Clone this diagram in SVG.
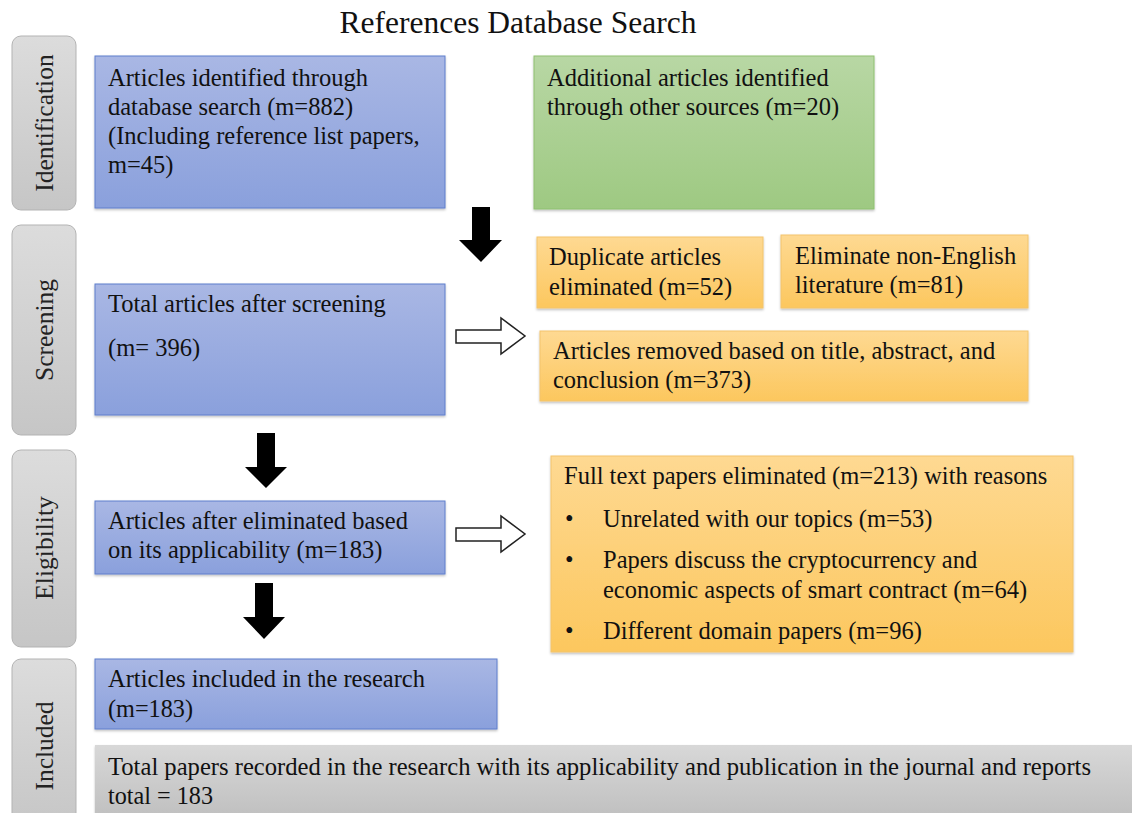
<svg xmlns="http://www.w3.org/2000/svg" width="1132" height="813" viewBox="0 0 1132 813">
  <defs>
    <linearGradient id="gBlue" x1="0" y1="0" x2="0" y2="1">
      <stop offset="0" stop-color="#a9b7e4"/>
      <stop offset="1" stop-color="#8aa0dc"/>
    </linearGradient>
    <linearGradient id="gGreen" x1="0" y1="0" x2="0" y2="1">
      <stop offset="0" stop-color="#b8d7a4"/>
      <stop offset="1" stop-color="#9ec982"/>
    </linearGradient>
    <linearGradient id="gOrange" x1="0" y1="0" x2="0" y2="1">
      <stop offset="0" stop-color="#fed992"/>
      <stop offset="1" stop-color="#fcc75e"/>
    </linearGradient>
    <linearGradient id="gGray" x1="0" y1="0" x2="0" y2="1">
      <stop offset="0" stop-color="#dcdcdc"/>
      <stop offset="1" stop-color="#c6c6c6"/>
    </linearGradient>
    <linearGradient id="gBand" x1="0" y1="0" x2="0" y2="1">
      <stop offset="0" stop-color="#d8d8d8"/>
      <stop offset="1" stop-color="#bdbdbd"/>
    </linearGradient>
    <filter id="shadow" x="-5%" y="-5%" width="110%" height="115%">
      <feDropShadow dx="0" dy="1.5" stdDeviation="1.2" flood-color="#000" flood-opacity="0.25"/>
    </filter>
  </defs>
  <style>
    text { font-family: "Liberation Serif", "Times New Roman", serif; fill: #111; }
    .title { font-size: 31.5px; }
    .phase { font-size: 25.5px; fill: #222; }
    .t { font-size: 24.5px; }
    .blue { fill: url(#gBlue); stroke: #5f7fcc; stroke-width: 1; filter: url(#shadow); }
    .green { fill: url(#gGreen); stroke: #8fc071; stroke-width: 1; filter: url(#shadow); }
    .orange { fill: url(#gOrange); stroke: #f3c46c; stroke-width: 1; filter: url(#shadow); }
    .side { fill: url(#gGray); stroke: #b3b3b3; stroke-width: 1; }
    .band { fill: url(#gBand); filter: url(#shadow); }
    .solid { fill: #000; }
    .hollow { fill: #fff; stroke: #222; stroke-width: 1.5; }
  </style>

  <rect width="1132" height="813" fill="#fff"/>

  <text class="title" x="518" y="33" text-anchor="middle">References Database Search</text>

  <!-- phase labels -->
  <g id="phase-identification">
    <rect class="side" x="12" y="36" width="64" height="174" rx="9"/>
    <text class="phase" transform="translate(53,123) rotate(-90)" text-anchor="middle">Identification</text>
  </g>
  <g id="phase-screening">
    <rect class="side" x="12" y="225" width="64" height="210" rx="9"/>
    <text class="phase" transform="translate(53,330) rotate(-90)" text-anchor="middle">Screening</text>
  </g>
  <g id="phase-eligibility">
    <rect class="side" x="12" y="450" width="64" height="197" rx="9"/>
    <text class="phase" transform="translate(53,548) rotate(-90)" text-anchor="middle">Eligibility</text>
  </g>
  <g id="phase-included">
    <rect class="side" x="12" y="659" width="64" height="170" rx="9"/>
    <text class="phase" transform="translate(53,746) rotate(-90)" text-anchor="middle">Included</text>
  </g>

  <!-- identification -->
  <g id="db-search">
    <rect class="blue" x="95" y="56" width="350" height="152"/>
    <text class="t" x="108" y="86">Articles identified through</text>
    <text class="t" x="108" y="115">database search (m=882)</text>
    <text class="t" x="108" y="144">(Including reference list papers,</text>
    <text class="t" x="108" y="173">m=45)</text>
  </g>
  <g id="other-sources">
    <rect class="green" x="534" y="56" width="340" height="153"/>
    <text class="t" x="547" y="86">Additional articles identified</text>
    <text class="t" x="547" y="115">through other sources (m=20)</text>
  </g>

  <!-- screening -->
  <g id="duplicates">
    <rect class="orange" x="537" y="237" width="226" height="71"/>
    <text class="t" x="549" y="265">Duplicate articles</text>
    <text class="t" x="549" y="295">eliminated (m=52)</text>
  </g>
  <g id="non-english">
    <rect class="orange" x="781" y="235" width="247" height="73"/>
    <text class="t" x="795" y="264">Eliminate non-English</text>
    <text class="t" x="795" y="293">literature (m=81)</text>
  </g>
  <g id="after-screening">
    <rect class="blue" x="95" y="284" width="350" height="131"/>
    <text class="t" x="108" y="312">Total articles after screening</text>
    <text class="t" x="108" y="356">(m= 396)</text>
  </g>
  <g id="title-abstract">
    <rect class="orange" x="540" y="331" width="488" height="70"/>
    <text class="t" x="553" y="359">Articles removed based on title, abstract, and</text>
    <text class="t" x="553" y="388">conclusion (m=373)</text>
  </g>

  <!-- eligibility -->
  <g id="applicability">
    <rect class="blue" x="95" y="501" width="350" height="73"/>
    <text class="t" x="108" y="529">Articles after eliminated based</text>
    <text class="t" x="108" y="558">on its applicability (m=183)</text>
  </g>
  <g id="full-text">
    <rect class="orange" x="551" y="456" width="522" height="196"/>
    <text class="t" x="564" y="484">Full text papers eliminated (m=213) with reasons</text>
    <text class="t" x="565" y="527">•</text>
    <text class="t" x="603" y="527">Unrelated with our topics (m=53)</text>
    <text class="t" x="565" y="568">•</text>
    <text class="t" x="603" y="568">Papers discuss the cryptocurrency and</text>
    <text class="t" x="603" y="598">economic aspects of smart contract (m=64)</text>
    <text class="t" x="565" y="639">•</text>
    <text class="t" x="603" y="639">Different domain papers (m=96)</text>
  </g>

  <!-- included -->
  <g id="included">
    <rect class="blue" x="95" y="659" width="402" height="70"/>
    <text class="t" x="108" y="687" textLength="317" lengthAdjust="spacingAndGlyphs">Articles included in the research</text>
    <text class="t" x="108" y="717" textLength="85" lengthAdjust="spacingAndGlyphs">(m=183)</text>
  </g>
  <g id="total">
    <rect class="band" x="95" y="745" width="1045" height="80"/>
    <text class="t" x="108" y="775" textLength="983" lengthAdjust="spacingAndGlyphs">Total papers recorded in the research with its applicability and publication in the journal and reports</text>
    <text class="t" x="108" y="804" textLength="105" lengthAdjust="spacingAndGlyphs">total = 183</text>
  </g>

  <!-- connectors -->
  <g id="connectors">
    <polygon class="solid" points="472,207 490,207 490,240 502,240 481,262 459,240 472,240"/>
    <polygon class="solid" points="257,433 275,433 275,467 287,467 266,488 245,467 257,467"/>
    <polygon class="solid" points="255,583 273,583 273,617 285,617 264,639 243,617 255,617"/>
    <polygon class="hollow" points="456,330 501,330 501,318 525,336 501,354 501,343 456,343"/>
    <polygon class="hollow" points="456,528 501,528 501,516 525,534 501,552 501,541 456,541"/>
  </g>
</svg>
